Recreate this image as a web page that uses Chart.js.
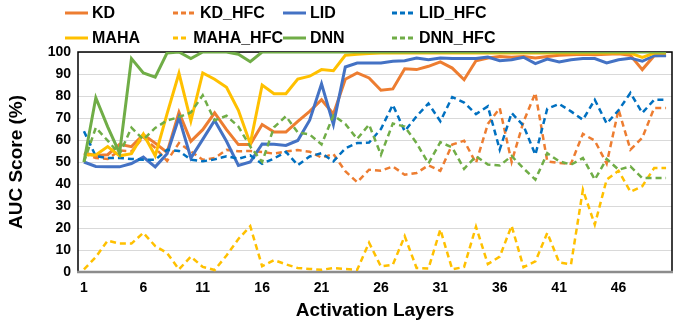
<!DOCTYPE html>
<html>
<head>
<meta charset="utf-8">
<script src="https://cdn.jsdelivr.net/npm/chart.js@4.4.1/dist/chart.umd.min.js"></script>
<style>
    html, body { margin: 0; padding: 0; background: #fff; }
    #wrap { position: relative; width: 689px; height: 326px; }
    #legend {
        position: absolute; left: 65px; top: 2px;
        display: grid; grid-template-columns: 108px 110px 109px 120px;
        row-gap: 4px;
        font: bold 16px "Liberation Sans Narrow", "Liberation Sans", sans-serif;
        color: #000;
    }
    .item { display: flex; align-items: center; height: 21px; white-space: nowrap; }
    .item svg { margin-right: 4px; }
</style>
</head>
<body>
<div id="wrap">
    <canvas id="chart" width="689" height="326"></canvas>
    <div id="legend"></div>
</div>
<script>
    const layers = Array.from({ length: 50 }, (_, i) => String(i + 1));

    const kd = [54, 53, 53.3, 58, 57, 62.4, 58.6, 54.3, 72.6, 59.4,
        64.7, 72.3, 64.7, 57.9, 57.9, 67, 63.6, 63.6, 68.5, 73,
        78.3, 71.8, 87.6, 90.5, 88.2, 82.6, 83.2, 92.4, 92, 93.5,
        95.5, 92.7, 87.4, 96, 97.3, 98, 97.6, 98, 97.3, 98,
        98.5, 98.8, 99, 98.8, 99, 99.2, 98.5, 92, 98.3, 98.5];
    const kdHfc = [54, 51.8, 51.4, 55.2, 54.8, 61.3, 56.4, 50.5, 58.6, 54.8,
        51, 51.8, 55.5, 54.9, 55, 54.5, 53.8, 54.8, 55.4, 54.7,
        52, 53.6, 45.8, 40.8, 46.5, 46, 48, 44.2, 45, 48.5,
        46, 57.9, 59.7, 49.5, 67.3, 74.5, 50, 68.3, 81.4, 50.3,
        49.5, 49.2, 62.8, 59.7, 49.3, 73.8, 55.6, 61, 74.5, 74.5];
    const lid = [50, 48, 47.8, 47.8, 49.3, 52.2, 47.8, 53.8, 70.2, 51.8,
        60.3, 68.9, 59.4, 48.4, 50, 58.2, 58.1, 57.5, 59.8, 69,
        85.5, 67, 93.2, 95, 95, 95, 95.8, 96, 97.3, 96.5,
        97.3, 97, 97, 97, 97.7, 96, 96.5, 97.6, 94.7, 96.8,
        95.5, 96.5, 97, 97, 95, 96.5, 97.2, 95.8, 98.3, 98.3];
    const lidHfc = [64, 52.6, 51.8, 51.8, 51.4, 51, 51, 55.6, 55, 51,
        50.3, 51.2, 52.6, 51.5, 53, 49.2, 51.6, 54.6, 48.6, 52.5,
        54, 50.3, 56.2, 58.6, 58.8, 65, 76, 64, 70.8, 76.6,
        68.5, 79.5, 77, 71.8, 75.3, 55.6, 72.3, 66.5, 53.3, 74.2,
        76.4, 73, 69.2, 78.3, 67.5, 73.5, 81.4, 72.3, 78.3, 78.3];
    const maha = [53.3, 53.2, 57, 52.8, 53.8, 62.7, 52.8, 72, 90.3, 68.6,
        90.5, 87.6, 84, 73.5, 58.3, 85, 81, 81, 87.7, 89,
        92, 91.5, 98.5, 99, 99.3, 99.5, 99.5, 99.6, 99.5, 99.6,
        99.7, 99.6, 99.5, 99.7, 99.6, 99.7, 99.6, 99.7, 99.6, 99.7,
        99.6, 99.7, 99.6, 99.7, 99.6, 99.7, 99.5, 97.5, 99.5, 99.6];
    const mahaHfc = [1.2, 6.8, 14.3, 12.9, 12.9, 17.8, 11.8, 8.6, 1.2, 7,
        2.3, 0.9, 7.5, 15, 20.8, 2.6, 5.4, 3.5, 1.8, 1.4,
        1, 1.8, 1.4, 1, 13.3, 2.5, 3.3, 16.3, 1.8, 1.6,
        19.3, 1.2, 2.3, 20.6, 3.6, 7, 21, 2.2, 4.8, 17.8,
        4.4, 3.5, 37.4, 21.5, 42, 46, 36.5, 39, 47.3, 47.3];
    const dnn = [50, 79.2, 66, 54, 97, 90.5, 88.6, 99.6, 100, 97,
        100, 100, 100, 99, 95.6, 100, 100, 100, 100, 100,
        100, 100, 100, 100, 100, 100, 100, 100, 100, 100,
        100, 100, 100, 100, 100, 100, 100, 100, 100, 100,
        100, 100, 100, 100, 100, 100, 100, 100, 100, 100];
    const dnnHfc = [50, 65.6, 59.7, 53.6, 65.6, 60.2, 65.5, 68.9, 70.4, 72.5,
        80.3, 68.9, 71, 66.1, 57, 50, 65.8, 70.8, 63.4, 62.5,
        58, 71.2, 67.3, 60.5, 67, 53.3, 67.5, 66.1, 58.6, 49.3,
        59, 56.6, 46.9, 52.6, 48.9, 48.4, 52.7, 47.1, 42, 54,
        50.3, 48.8, 51.8, 42, 51.4, 46.5, 48, 42.7, 42.7, 42.7];

    const orange = '#ED7D31';
    const blue = '#4472C4';
    const darkBlue = '#0070C0';
    const yellow = '#FFC000';
    const green = '#70AD47';

    const series = [
        { label: 'KD', data: kd, color: orange, dashed: false },
        { label: 'KD_HFC', data: kdHfc, color: orange, dashed: true },
        { label: 'LID', data: lid, color: blue, dashed: false },
        { label: 'LID_HFC', data: lidHfc, color: darkBlue, dashed: true },
        { label: 'MAHA', data: maha, color: yellow, dashed: false },
        { label: 'MAHA_HFC', data: mahaHfc, color: yellow, dashed: true },
        { label: 'DNN', data: dnn, color: green, dashed: false },
        { label: 'DNN_HFC', data: dnnHfc, color: green, dashed: true }
    ];

    // html legend, 4 columns like the excel one
    const legend = document.getElementById('legend');
    series.forEach((s) => {
        const item = document.createElement('div');
        item.className = 'item';
        const dash = s.dashed ? ' stroke-dasharray="5,3"' : '';
        item.innerHTML = '<svg width="23" height="6"><line x1="0" y1="3" x2="23" y2="3" stroke="' +
            s.color + '" stroke-width="3"' + dash + '/></svg><span>' + s.label + '</span>';
        legend.appendChild(item);
    });

    const plotFrame = {
        id: 'plotFrame',
        beforeDatasetsDraw(chart) {
            const { ctx, chartArea: a } = chart;
            ctx.save();
            ctx.strokeStyle = '#000';
            ctx.lineWidth = 1.5;
            ctx.beginPath();
            ctx.moveTo(a.left, a.bottom);
            ctx.lineTo(a.left, a.top);
            ctx.lineTo(a.right, a.top);
            ctx.lineTo(a.right, a.bottom);
            ctx.stroke();
            ctx.strokeStyle = '#8c8c8c';
            ctx.lineWidth = 2.5;
            ctx.beginPath();
            ctx.moveTo(a.left - 1, a.bottom);
            ctx.lineTo(a.right + 1, a.bottom);
            ctx.stroke();
            ctx.restore();
        }
    };

    const tickFont = { family: '"Liberation Sans Narrow", "Liberation Sans", sans-serif', size: 14, weight: 'bold' };
    const titleFont = { family: '"Liberation Sans", sans-serif', size: 19, weight: 'bold' };

    new Chart(document.getElementById('chart'), {
        type: 'line',
        data: {
            labels: layers,
            datasets: series.map((s, i) => ({
                label: s.label,
                data: s.data,
                borderColor: s.color,
                backgroundColor: s.color,
                borderWidth: s.dashed ? 2.5 : 3,
                borderDash: s.dashed ? [6, 4] : [],
                pointRadius: 0,
                tension: 0,
                order: series.length - i
            }))
        },
        options: {
            responsive: false,
            animation: false,
            layout: { padding: { top: 52, right: 17, left: 0, bottom: 0 } },
            plugins: {
                legend: { display: false },
                tooltip: { enabled: false }
            },
            scales: {
                x: {
                    offset: true,
                    afterFit: (scale) => { scale.height = 54; },
                    grid: { display: false, drawTicks: false },
                    border: { display: false },
                    ticks: {
                        autoSkip: false,
                        maxRotation: 0,
                        padding: 8,
                        color: '#000',
                        font: tickFont,
                        callback: (v, i) => (i % 5 === 0 ? layers[i] : '')
                    },
                    title: {
                        display: true,
                        text: 'Activation Layers',
                        color: '#000',
                        font: titleFont,
                        padding: { top: 0, bottom: 4 }
                    }
                },
                y: {
                    min: 0,
                    max: 100,
                    afterFit: (scale) => { scale.width = 78; },
                    grid: { color: '#d9d9d9', drawTicks: false },
                    border: { display: false },
                    ticks: {
                        stepSize: 10,
                        padding: 7,
                        color: '#000',
                        font: tickFont
                    },
                    title: {
                        display: true,
                        text: 'AUC Score (%)',
                        color: '#000',
                        font: titleFont,
                        padding: { top: 5, bottom: 0 }
                    }
                }
            }
        },
        plugins: [plotFrame]
    });
</script>
</body>
</html>
